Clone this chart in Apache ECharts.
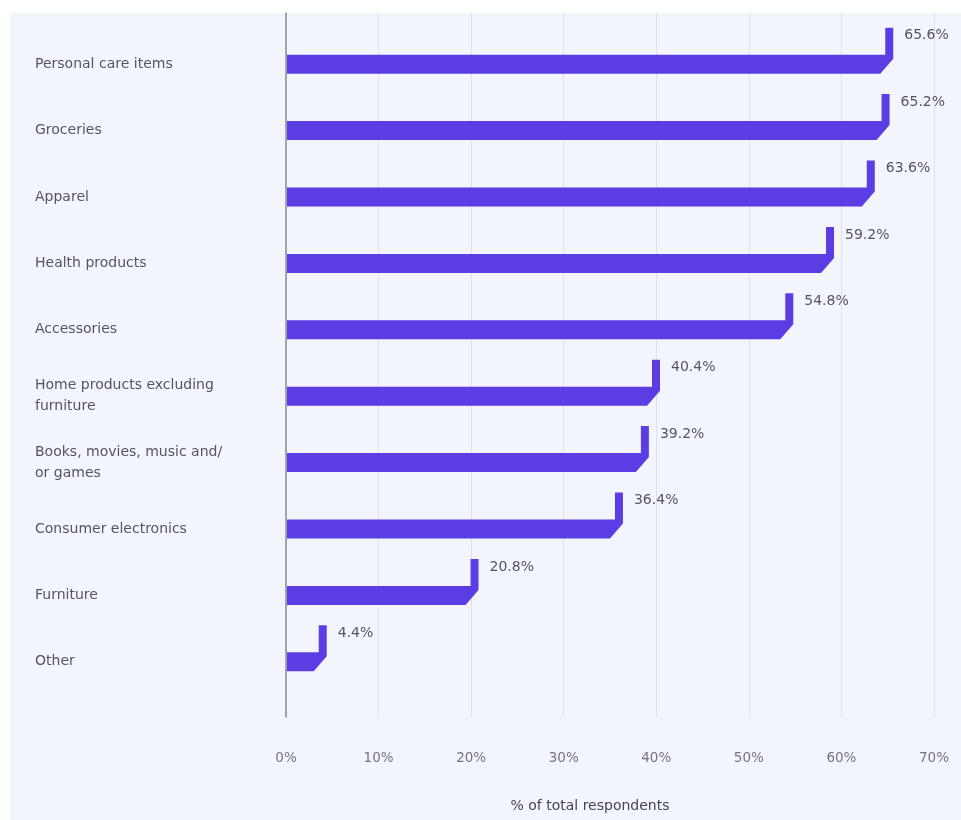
<!DOCTYPE html>
<html>
<head>
<meta charset="utf-8">
<script src="https://cdn.jsdelivr.net/npm/echarts@6/dist/echarts.min.js"></script>
<style>
  html, body { margin: 0; padding: 0; background: #ffffff; }
  #wrap { position: relative; width: 961px; height: 820px; background: #ffffff; }
  #panel { position: absolute; left: 10px; top: 13px; right: 0; bottom: 0; background: #f3f5fd; }
  #chart { position: absolute; left: 0; top: 0; width: 961px; height: 820px; }
</style>
</head>
<body>
<div id="wrap">
  <div id="panel"></div>
  <div id="chart"></div>
</div>
<script>
// Product categories, top to bottom
const categories = [
  'Personal care items',
  'Groceries',
  'Apparel',
  'Health products',
  'Accessories',
  'Home products excluding\nfurniture',
  'Books, movies, music and/\nor games',
  'Consumer electronics',
  'Furniture',
  'Other'
];
// Share of respondents (%)
const shares = [65.6, 65.2, 63.6, 59.2, 54.8, 40.4, 39.2, 36.4, 20.8, 4.4];
const axisTitle = '% of total respondents';
const xMin = 0, xMax = 70, xStep = 10;

const fontFamily = '"DejaVu Sans", "Noto Sans", sans-serif';
const barColor = '#5b3de3';

const chart = echarts.init(document.getElementById('chart'), null, { renderer: 'canvas' });

const option = {
  backgroundColor: 'transparent',
  animation: false,
  grid: [
    // grid 0: bars and category labels
    { left: 286, right: 27, top: 31, height: 664 },
    // grid 1: full-height gridlines, value axis labels
    { left: 286, right: 27, top: 13, bottom: 103 }
  ],
  xAxis: [
    { gridIndex: 0, type: 'value', min: xMin, max: xMax, interval: xStep, show: false },
    {
      gridIndex: 1, type: 'value', min: xMin, max: xMax, interval: xStep,
      axisLine: { show: false }, axisTick: { show: false },
      splitLine: { show: true, lineStyle: { color: '#dfe0e9', width: 1 } },
      axisLabel: {
        formatter: '{value}%', margin: 34,
        color: '#74747d', fontSize: 13.5, fontFamily: fontFamily
      }
    }
  ],
  yAxis: [
    {
      gridIndex: 0, type: 'category', data: categories, inverse: true,
      axisLine: { show: false }, axisTick: { show: false }, splitLine: { show: false },
      axisLabel: {
        align: 'left', margin: 251, color: '#55555e', fontSize: 14,
        lineHeight: 21, fontFamily: fontFamily
      }
    },
    {
      gridIndex: 1, type: 'value', min: 0, max: 1, show: true,
      axisLine: { show: true, lineStyle: { color: '#8a8a95', width: 1.5 } },
      axisTick: { show: false }, axisLabel: { show: false }, splitLine: { show: false }
    }
  ],
  graphic: [
    {
      type: 'text', x: 590, y: 806,
      style: {
        text: axisTitle, fill: '#45454d', font: '14px ' + fontFamily,
        textAlign: 'center', textVerticalAlign: 'middle'
      }
    }
  ],
  series: [
    {
      type: 'custom',
      xAxisIndex: 0, yAxisIndex: 0,
      data: shares.map((v, i) => [v, i]),
      encode: { x: 0, y: 1 },
      renderItem: function (params, api) {
        const v = api.value(0);
        const idx = api.value(1);
        const start = api.coord([0, idx]);
        const end = api.coord([v, idx]);
        const barH = 19, tabW = 8, rise = 27, cut = 13;
        const top = end[1] - barH / 2;
        const bot = end[1] + barH / 2;
        const x0 = start[0] + 1;
        const x1 = end[0];
        const pts = [
          [x0, top], [x1 - tabW, top], [x1 - tabW, top - rise], [x1, top - rise],
          [x1, top + 4], [x1 - cut, bot], [x0, bot]
        ];
        return {
          type: 'group',
          children: [
            { type: 'polygon', shape: { points: pts }, style: { fill: barColor } },
            {
              type: 'text',
              style: {
                x: x1 + 11, y: top - rise + 8,
                text: v.toFixed(1) + '%',
                fill: '#55555e',
                font: '14px ' + fontFamily,
                textAlign: 'left', textVerticalAlign: 'middle'
              }
            }
          ]
        };
      }
    }
  ]
};

chart.setOption(option);
</script>
</body>
</html>
